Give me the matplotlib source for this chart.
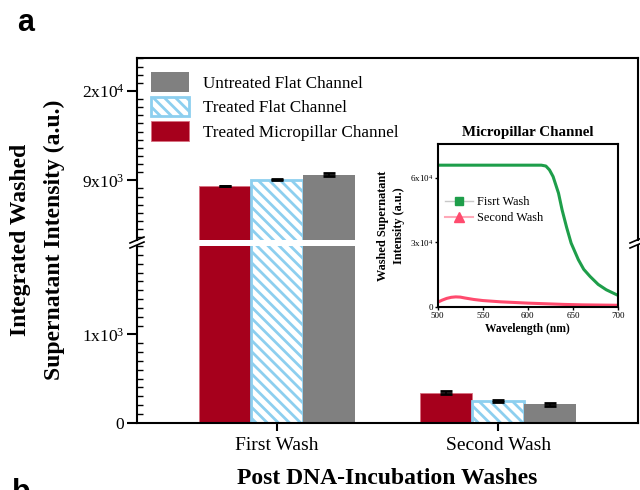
import matplotlib
matplotlib.use("Agg")
import matplotlib.pyplot as plt
import numpy as np
from matplotlib.lines import Line2D
from matplotlib.ticker import FixedLocator, MultipleLocator

plt.rcParams['font.family'] = ['Liberation Serif', 'DejaVu Serif']
plt.rcParams['mathtext.fontset'] = 'custom'
plt.rcParams['mathtext.rm'] = 'Liberation Serif'
plt.rcParams['mathtext.it'] = 'Liberation Serif:italic'
plt.rcParams['mathtext.bf'] = 'Liberation Serif:bold'
plt.rcParams['hatch.linewidth'] = 2.0

# ---- data ----
categories = ["First Wash", "Second Wash"]
series_names = ["Treated Micropillar Channel", "Treated Flat Channel", "Untreated Flat Channel"]
micropillar_vals = [8280, 340]
micropillar_err = [30, 19]
treated_flat_vals = [9060, 250]
treated_flat_err = [40, 12]
untreated_flat_vals = [9700, 208]
untreated_flat_err = [210, 17]

upper_major_ticks = [9000, 20000]
upper_major_labels = ["9x10$^{3}$", "2x10$^{4}$"]
lower_major_ticks = [0, 1000]
lower_major_labels = ["0", "1x10$^{3}$"]

wl_first = [500, 615, 620, 624, 628, 634, 638, 643, 648, 656, 662, 669, 678, 687, 694, 700]
int_first = [65900, 65900, 65500, 63700, 60600, 52900, 45100, 37000, 29700, 22000, 17500, 14200, 10500, 8000, 6600, 5400]
wl_second = [500, 505, 510, 515, 520, 525, 530, 540, 550, 560, 570, 580, 590, 600, 620, 640, 660, 680, 700]
int_second = [2200, 3200, 4000, 4500, 4700, 4600, 4200, 3500, 3000, 2700, 2400, 2200, 2000, 1800, 1500, 1200, 1000, 900, 800]
inset_yticks = [0, 30000, 60000]
inset_ylabels = ["0", "3x10$^{4}$", "6x10$^{4}$"]
inset_xticks = [500, 550, 600, 650, 700]

# ---- style ----
RED = '#A6001C'
BLUE = '#8DCFEF'
GRAY = '#808080'
GREEN = '#1E9E4A'
PINK = '#FF4B6E'

W, H = 640, 490
fig = plt.figure(figsize=(6.4, 4.9), dpi=100)

def fx(px):
    return px / W

def fy(py):
    return 1 - py / H

left, right = 137, 638
ax_up = fig.add_axes([fx(left), fy(240), fx(right - left), fy(58) - fy(240)])
ax_lo = fig.add_axes([fx(left), fy(422.7), fx(right - left), fy(246) - fy(422.7)])

x = np.arange(len(categories))
bw = 0.235

handles = {}
for ax in (ax_up, ax_lo):
    b1 = ax.bar(x - bw, micropillar_vals, bw, color=RED, edgecolor='#d87080', linewidth=0.6,
                yerr=micropillar_err, error_kw=dict(ecolor='black', elinewidth=1.2, capsize=4, capthick=2),
                label=series_names[0])
    b2 = ax.bar(x, treated_flat_vals, bw, facecolor='white', edgecolor=BLUE, linewidth=2, hatch='\\' * 3,
                yerr=treated_flat_err, error_kw=dict(ecolor='black', elinewidth=1.2, capsize=4, capthick=2),
                label=series_names[1])
    b3 = ax.bar(x + bw, untreated_flat_vals, bw, color=GRAY, linewidth=0,
                yerr=untreated_flat_err, error_kw=dict(ecolor='black', elinewidth=1.2, capsize=4, capthick=2),
                label=series_names[2])
    handles = (b1, b2, b3)
    ax.set_xlim(-0.6335, 1.633)
    for s in ax.spines.values():
        s.set_linewidth(1.5)
    ax.tick_params(axis='y', which='major', direction='out', length=7, width=1.5, labelsize=12.5, pad=2)
    ax.tick_params(axis='y', which='minor', direction='in', length=4, width=1)
    ax.tick_params(axis='y', right=False)

ax_up.set_ylim(1650, 24060)
ax_up.yaxis.set_major_locator(FixedLocator(upper_major_ticks))
ax_up.set_yticklabels(upper_major_labels)
ax_up.yaxis.set_minor_locator(MultipleLocator(1000))
ax_up.spines['bottom'].set_visible(False)
ax_up.tick_params(axis='x', bottom=False, labelbottom=False)

ax_lo.set_ylim(0, 2000)
ax_lo.yaxis.set_major_locator(FixedLocator(lower_major_ticks))
ax_lo.set_yticklabels(lower_major_labels)
ax_lo.yaxis.set_minor_locator(MultipleLocator(100))
ax_lo.spines['top'].set_visible(False)
ax_lo.set_xticks(x)
ax_lo.set_xticklabels(categories)
ax_lo.tick_params(axis='x', direction='out', length=6, width=1.5, labelsize=14, pad=4)

# legend
b1, b2, b3 = handles
ax_up.legend([b3, b2, b1], [series_names[2], series_names[1], series_names[0]],
             loc='upper left', bbox_to_anchor=(0.027, 0.922), frameon=False, fontsize=12.3,
             handlelength=2.27, handleheight=1.38, handletextpad=0.79, labelspacing=0.3,
             borderpad=0, borderaxespad=0)

# break marks
for bx in (left, right - 1):
    for dy in (0, 5):
        fig.add_artist(Line2D([fx(bx - 7), fx(bx + 7)], [fy(243 + dy), fy(237 + dy)],
                              color='black', lw=1.2, transform=fig.transFigure))

# axis labels
fig.text(fx(37.5), fy(240), "Integrated Washed\nSupernatant Intensity (a.u.)", rotation=90,
         ha='center', va='center', fontsize=17, fontweight='bold', linespacing=1.74,
         multialignment='center')
fig.text(fx(387.5), fy(478), "Post DNA-Incubation Washes", ha='center', va='center',
         fontsize=17, fontweight='bold')

# panel letters
fig.text(fx(17), fy(8), "a", ha='left', va='top', fontsize=22, fontweight='bold',
         family=['Liberation Sans', 'DejaVu Sans'])
fig.text(fx(12), fy(478), "b", ha='left', va='top', fontsize=22, fontweight='bold',
         family=['Liberation Sans', 'DejaVu Sans'])

# inset
ax_in = fig.add_axes([fx(437.7), fy(307), fx(618 - 437.7), fy(144.3) - fy(307)])
ax_in.plot(wl_first, int_first, color=GREEN, lw=2.2)
ax_in.plot(wl_second, int_second, color=PINK, lw=2.2)
ax_in.set_xlim(500, 700)
ax_in.set_ylim(0, 75600)
ax_in.set_xticks(inset_xticks)
ax_in.set_yticks(inset_yticks)
ax_in.set_yticklabels(inset_ylabels)
ax_in.tick_params(labelsize=6.5, length=2, width=1, pad=1.5)
for s in ax_in.spines.values():
    s.set_linewidth(1.5)
ax_in.set_title("Micropillar Channel", fontsize=10.8, fontweight='bold', pad=6)
ax_in.set_xlabel("Wavelength (nm)", fontsize=8.3, fontweight='bold', labelpad=2)
ax_in.set_ylabel("Washed Supernatant\nIntensity (a.u.)", fontsize=8.8, fontweight='bold',
                 labelpad=3, linespacing=1.45)
leg_handles = [
    Line2D([], [], color='#c8c8c8', lw=1, marker='s', markersize=6,
           markerfacecolor=GREEN, markeredgecolor=GREEN),
    Line2D([], [], color='#ffa8b8', lw=1.5, marker='^', markersize=7,
           markerfacecolor=PINK, markeredgecolor=PINK),
]
ax_in.legend(leg_handles, ["Fisrt Wash", "Second Wash"], loc='upper left',
             bbox_to_anchor=(0.04, 0.68), frameon=False, fontsize=8.8,
             handlelength=2.3, handletextpad=0.3, labelspacing=0.3,
             borderpad=0, borderaxespad=0)

fig.savefig("out.png", dpi=100)
